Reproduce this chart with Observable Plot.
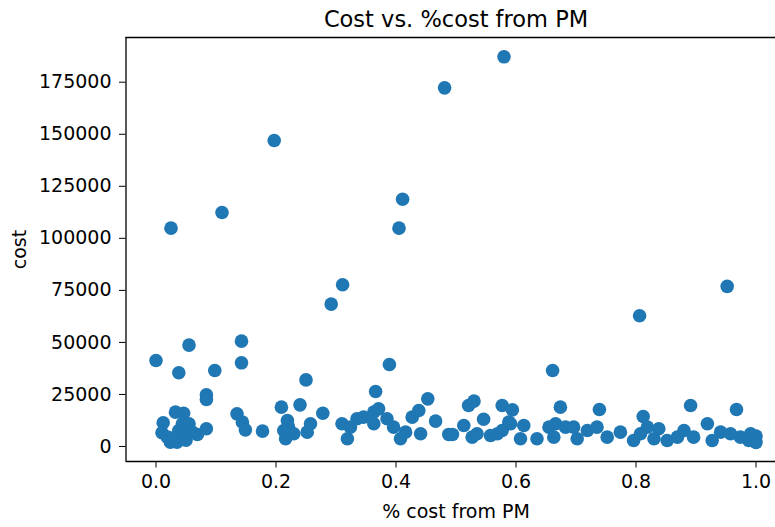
<!DOCTYPE html>
<html>
<head>
<meta charset="utf-8">
<script src="https://cdn.jsdelivr.net/npm/d3@7"></script>
<script src="https://cdn.jsdelivr.net/npm/@observablehq/plot@0.6"></script>
<style>
  html, body { margin: 0; padding: 0; background: #fff; overflow: hidden; width: 775px; height: 527px; }
  #heading { position: absolute; z-index: 2; left: 5px; top: -36.5px; font: bold 32px/32px "Liberation Serif", serif; color: #000; white-space: nowrap; margin: 0; }
  #chart { position: absolute; z-index: 1; left: 0; top: 0; width: 775px; height: 527px; overflow: hidden; }
</style>
</head>
<body>
<div id="heading">Appears there is only a weak link to percentage</div>
<div id="chart"></div>
<script>
// % cost from PM (x) and cost (y)
const pctCost = [
  0.025, 0.110, 0.197, 0.405, 0.411, 0.481, 0.580, 0.952, 0.806, 0.661, 0.292, 0.311,
  0.0, 0.038, 0.055, 0.098, 0.084, 0.084, 0.1425, 0.1425, 0.250, 0.389, 0.366, 0.453, 0.209, 0.240, 0.278,
  0.521, 0.530, 0.546, 0.577, 0.594, 0.588, 0.674, 0.739, 0.891, 0.9675, 0.812,
  0.466, 0.1775, 0.135, 0.144, 0.149,
  0.010, 0.012, 0.024, 0.035, 0.0325, 0.046, 0.044, 0.055, 0.038, 0.069, 0.084, 0.019,
  0.028, 0.045, 0.050, 0.060,
  0.216, 0.219, 0.221, 0.2297, 0.213, 0.252, 0.2575,
  0.310, 0.319, 0.324, 0.335, 0.346, 0.363, 0.363, 0.371, 0.385, 0.396, 0.4075, 0.416, 0.427, 0.438, 0.441, 0.488,
  0.494, 0.513, 0.527, 0.535, 0.5575, 0.569, 0.577, 0.591, 0.6075, 0.613, 0.635, 0.655, 0.663, 0.666,
  0.6825, 0.696, 0.702, 0.719, 0.735, 0.752, 0.774, 0.796, 0.8075, 0.819, 0.830, 0.838, 0.852, 0.869,
  0.880, 0.896, 0.919, 0.927, 0.941, 0.9575, 0.974, 0.988, 0.991, 1.0, 1.0
];
const cost = [
  104900, 112400, 147000, 104900, 118800, 172300, 187200, 76900, 62800, 36500, 68400, 77700,
  41300, 35400, 48700, 36500, 24800, 22600, 50600, 40200, 32000, 39400, 26400, 22900, 18900, 20000, 16000,
  19700, 21800, 13100, 19700, 17600, 11700, 18900, 17800, 19700, 17800, 14400,
  12200, 7400, 15700, 11700, 8000,
  6600, 11400, 2100, 2100, 16500, 16000, 10900, 10900, 7700, 5800, 8500, 4500,
  4000, 5500, 3000, 7000,
  3700, 12500, 9300, 6100, 7700, 6900, 10900,
  10900, 3700, 9300, 13300, 14100, 10900, 16500, 18100, 13300, 9300, 3700, 6900, 14100, 17300, 6100, 5800,
  5800, 10100, 4500, 6100, 5300, 6100, 7700, 10900, 3700, 10100, 3700, 9300, 4500, 10900,
  9300, 9300, 3700, 7700, 9300, 4500, 6900, 2900, 6100, 9300, 3700, 8500, 2900, 4500,
  7700, 4500, 10900, 2900, 6900, 6100, 4500, 2900, 6100, 5000, 2000
];
const xTicks = [0.0, 0.2, 0.4, 0.6, 0.8, 1.0];
const yTicks = [0, 25000, 50000, 75000, 100000, 125000, 150000, 175000];
const titleText = "Cost vs. %cost from PM";
const xLabel = "% cost from PM";
const yLabel = "cost";

const data = pctCost.map((x, i) => ({x, y: cost[i]}));
const font = '"DejaVu Sans", sans-serif';
const spine = {stroke: "#000", strokeWidth: 1.3};

const chart = Plot.plot({
  width: 775,
  height: 527,
  marginLeft: 125.5,
  marginRight: -10.5,
  marginTop: 37,
  marginBottom: 66,
  style: {fontFamily: font, fontSize: "19px", color: "#000", background: "transparent", maxWidth: "none"},
  x: {domain: [-0.05, 1.05], label: null},
  y: {domain: [-7206, 196480], label: null},
  marks: [
    Plot.axisX({ticks: xTicks, tickFormat: d3.format(".1f"), tickSize: 6.5, tickPadding: 6, label: null, fontSize: 19, stroke: "#000"}),
    Plot.axisY({ticks: yTicks, tickFormat: d3.format("d"), tickSize: 6.5, tickPadding: 8, label: null, fontSize: 19, stroke: "#000"}),
    Plot.dot(data, {x: "x", y: "y", r: 6.8, fill: "#1f77b4", stroke: "none"}),
    Plot.ruleX([-0.05], spine),
    Plot.ruleY([196480], spine),
    Plot.ruleY([-7206], spine),
    Plot.text([titleText], {frameAnchor: "top", dy: -10.3, lineAnchor: "bottom", textAnchor: "middle", fontSize: 22.5, fill: "#000"}),
    Plot.text([xLabel], {frameAnchor: "bottom", dy: 56, lineAnchor: "bottom", textAnchor: "middle", fontSize: 19, fill: "#000"}),
    Plot.text([yLabel], {frameAnchor: "left", dx: -100.5, rotate: -90, lineAnchor: "bottom", textAnchor: "middle", fontSize: 19, fill: "#000"})
  ]
});
document.getElementById("chart").appendChild(chart);
</script>
</body>
</html>
